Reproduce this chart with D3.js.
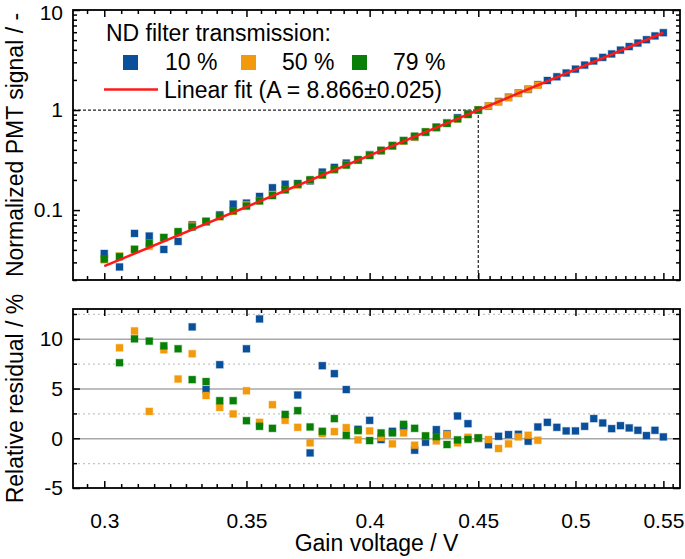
<!DOCTYPE html>
<html>
<head>
<meta charset="utf-8">
<script src="https://cdn.jsdelivr.net/npm/d3@7"></script>
<style>
  html, body { margin: 0; padding: 0; background: #fff; }
  svg { display: block; font-family: "Liberation Sans", Arial, sans-serif; }
</style>
</head>
<body>
<svg id="chart" width="685" height="559"></svg>
<script>
// ---------------- DATA ----------------
const voltage = [0.300,0.305,0.310,0.315,0.320,0.325,0.330,0.335,0.340,0.345,
                 0.350,0.355,0.360,0.365,0.370,0.375,0.380,0.385,0.390,0.395,
                 0.400,0.405,0.410,0.415,0.420,0.425,0.430,0.435,0.440,0.445,
                 0.450,0.455,0.460,0.465,0.470,0.475,0.480,0.485,0.490,0.495,
                 0.500,0.505,0.510,0.515,0.520,0.525,0.530,0.535,0.540,0.545,0.550];

// Normalized PMT signal (top panel)
const signal10 = [0.0368,0.0270,0.0584,0.0550,0.0404,0.0486,0.0711,0.0766,0.0895,0.1147,
                  0.1174,0.1368,0.1673,0.1813,0.1840,0.1957,0.2397,0.2671,0.2950,0.3177,
                  0.3583,0.3924,0.4411,0.4934,0.5359,0.6000,0.6741,0.7437,0.8377,0.9190,
                  1.0000,1.0947,1.2174,1.3421,1.4763,1.6102,1.7924,1.9738,2.1511,2.3451,
                  2.5635,2.8131,3.0937,3.3583,3.6388,3.9729,4.3108,4.6738,5.0486,5.5073,5.9328];
const signal50 = [0.0319,0.0347,0.0407,0.0435,0.0530,0.0592,0.0694,0.0762,0.0859,0.0972,
                  0.1129,0.1241,0.1429,0.1591,0.1782,0.1977,0.2244,0.2525,0.2842,0.3143,
                  0.3545,0.3931,0.4356,0.4904,0.5386,0.6037,0.6666,0.7431,0.8156,0.9066,
                  1.0000,1.1005,1.2025,1.3297,1.4725,1.6200,1.7687];
const signal79 = [0.0324,0.0342,0.0404,0.0465,0.0532,0.0609,0.0677,0.0772,0.0864,0.0984,
                  0.1096,0.1236,0.1396,0.1600,0.1812,0.2009,0.2249,0.2558,0.2820,0.3173,
                  0.3511,0.3950,0.4404,0.4946,0.5478,0.6039,0.6694,0.7357,0.8181,0.9045,1.0004];

// Relative residual in % (bottom panel)
const resid10 = [34,-15,59,30,-17,-13,11.2,4.9,7.4,21,
                 9.0,12.0,21,16,4.35,-1.47,7.3,6.5,4.9,0.9,
                 1.8,-0.13,0.7,1.14,-1.2,-0.4,0.87,0.45,2.24,1.47,
                 0,-0.65,0.2,0.37,0.4,-0.3,1.14,1.6,1.1,0.74,
                 0.74,1.2,1.98,1.54,0.97,1.27,1.04,0.8,0.27,0.8,0.14];
const resid50 = [16,9.1,10.8,2.7,8.9,5.96,8.5,4.3,3.1,2.45,
                 4.78,1.6,3.38,1.8,1.1,-0.46,0.47,0.67,1.07,-0.16,
                 0.74,0.07,-0.56,0.54,-0.7,0.2,-0.26,0.37,-0.46,0.1,
                 0,-0.13,-1.03,-0.56,0.14,0.3,-0.2];
const resid79 = [18,7.6,10.0,9.77,9.3,9.0,5.9,5.7,3.78,3.78,
                 1.77,1.2,1.0,2.4,2.78,1.14,0.7,1.98,0.3,0.77,
                 -0.23,0.54,0.54,1.4,1.0,0.24,0.17,-0.63,-0.16,-0.13,0.04];

// Linear fit (log-log), endpoints
const fitVoltage = [0.30, 0.55];
const fitSignal  = [0.02747, 5.9245];
const refVoltage = 0.45, refSignal = 1;

const seriesNames  = ["10 %", "50 %", "79 %"];
const seriesColors = ["#0a4f99", "#f39a0c", "#088008"];
const legendTitle  = "ND filter transmission:";
const fitLabel     = "Linear fit (A = 8.866\u00B10.025)";

const xMajor = [0.30, 0.35, 0.40, 0.45, 0.50, 0.55];
const xTickLabels = ["0.3", "0.35", "0.4", "0.45", "0.5", "0.55"];
const yTopMajor = [0.1, 1, 10];
const yTopLabels = ["0.1", "1", "10"];
const yResMajor = [-5, 0, 5, 10];
const yResLabels = ["-5", "0", "5", "10"];
const yResMinor = [-2.5, 2.5, 7.5, 12.5];

// ---------------- LAYOUT ----------------
const svg = d3.select("#chart");
const L = 73, R = 680;
const topT = 10, topB = 280;
const botT = 309, botB = 488;

const x = d3.scaleLog().domain([0.29, 0.56]).range([L, R]);
const yTop = d3.scaleLog().domain([0.02, 10]).range([topB, topT]);
const yRes = d3.scaleLinear().domain([-5, 13]).range([botB, botT]);

// minor ticks for x: 8 between majors
const xMinor = [];
for (let i = -1; i < xMajor.length; i++) {
  const base = i < 0 ? xMajor[0] - 0.05 : xMajor[i];
  for (let k = 1; k <= 8; k++) {
    const v = +(base + k * 0.05 / 9).toFixed(6);
    if (v > 0.29 && v < 0.56) xMinor.push(v);
  }
}
const yTopMinor = [];
[0.01, 0.1, 1].forEach(b => { for (let k = 2; k <= 9; k++) { const v = +(b * k).toFixed(4); if (v >= 0.02 && v < 10) yTopMinor.push(v); } });

function styleAxis(g) {
  g.select(".domain").remove();
  g.selectAll(".tick line").attr("stroke", "#000").attr("stroke-width", 1.5);
  g.selectAll(".tick text").attr("fill", "#000").attr("font-size", 21)
    .attr("font-family", "'Liberation Sans', Arial, sans-serif");
}
const MAJ = 7, MIN = 4;

// ---- Bottom panel grid ----
const gridW = R - L;
svg.append("g").attr("transform", `translate(${L},0)`)
  .call(d3.axisLeft(yRes).tickValues(yResMinor).tickSize(-gridW).tickFormat(""))
  .call(g => { g.select(".domain").remove();
    g.selectAll(".tick line").attr("stroke", "#c4c4c4").attr("stroke-width", 1.2).attr("stroke-dasharray", "2,3"); });
svg.append("g").attr("transform", `translate(${L},0)`)
  .call(d3.axisLeft(yRes).tickValues([0, 5, 10]).tickSize(-gridW).tickFormat(""))
  .call(g => { g.select(".domain").remove();
    g.selectAll(".tick line").attr("stroke", "#a8a8a8").attr("stroke-width", 1.5); });

// ---- Top panel reference dotted lines ----
svg.append("line")
  .attr("x1", L).attr("x2", x(refVoltage))
  .attr("y1", yTop(refSignal)).attr("y2", yTop(refSignal))
  .attr("stroke", "#222").attr("stroke-width", 1.2).attr("stroke-dasharray", "3,2");
svg.append("line")
  .attr("x1", x(refVoltage)).attr("x2", x(refVoltage))
  .attr("y1", yTop(refSignal)).attr("y2", topB)
  .attr("stroke", "#222").attr("stroke-width", 1.2).attr("stroke-dasharray", "3,2");

// clip paths
const defs = svg.append("defs");
defs.append("clipPath").attr("id", "clipTop").append("rect")
  .attr("x", L).attr("y", topT).attr("width", R - L).attr("height", topB - topT);
defs.append("clipPath").attr("id", "clipBot").append("rect")
  .attr("x", L).attr("y", botT).attr("width", R - L).attr("height", botB - botT);

// ---- markers ----
const MS = 7;
const topSeries = [signal10, signal50, signal79];
const resSeries = [resid10, resid50, resid79];

const gTop = svg.append("g").attr("clip-path", "url(#clipTop)");
topSeries.forEach((arr, si) => {
  gTop.append("g").selectAll("rect").data(arr).join("rect")
    .attr("x", (d, i) => x(voltage[i]) - MS / 2)
    .attr("y", d => yTop(d) - MS / 2)
    .attr("width", MS).attr("height", MS)
    .attr("fill", seriesColors[si])
    .attr("stroke", seriesColors[si]).attr("stroke-opacity", 0.3).attr("stroke-width", 1.2);
});
// fit line
gTop.append("path")
  .datum(fitVoltage.map((v, i) => [v, fitSignal[i]]))
  .attr("d", d3.line().x(d => x(d[0])).y(d => yTop(d[1])))
  .attr("stroke", "#ff1a1a").attr("stroke-width", 2.5).attr("fill", "none");

const gBot = svg.append("g").attr("clip-path", "url(#clipBot)");
resSeries.forEach((arr, si) => {
  gBot.append("g").selectAll("rect").data(arr).join("rect")
    .attr("x", (d, i) => x(voltage[i]) - MS / 2)
    .attr("y", d => yRes(d) - MS / 2)
    .attr("width", MS).attr("height", MS)
    .attr("fill", seriesColors[si])
    .attr("stroke", seriesColors[si]).attr("stroke-opacity", 0.3).attr("stroke-width", 1.2);
});

// ---- axes: top panel ----
svg.append("g").attr("transform", `translate(0,${topB})`)
  .call(d3.axisBottom(x).tickValues(xMajor).tickSize(-MAJ).tickFormat("")).call(styleAxis);
svg.append("g").attr("transform", `translate(0,${topB})`)
  .call(d3.axisBottom(x).tickValues(xMinor).tickSize(-MIN).tickFormat("")).call(styleAxis);
svg.append("g").attr("transform", `translate(0,${topT})`)
  .call(d3.axisTop(x).tickValues(xMajor).tickSize(-MAJ).tickFormat("")).call(styleAxis);
svg.append("g").attr("transform", `translate(0,${topT})`)
  .call(d3.axisTop(x).tickValues(xMinor).tickSize(-MIN).tickFormat("")).call(styleAxis);
svg.append("g").attr("transform", `translate(${L},0)`)
  .call(d3.axisLeft(yTop).tickValues(yTopMajor).tickSize(-MAJ).tickPadding(10)
    .tickFormat((d, i) => yTopLabels[i])).call(styleAxis)
  .call(g => g.selectAll(".tick text").filter(d => d === 10).attr("dy", "0.45em"));
svg.append("g").attr("transform", `translate(${L},0)`)
  .call(d3.axisLeft(yTop).tickValues(yTopMinor).tickSize(-MIN).tickFormat("")).call(styleAxis);
svg.append("g").attr("transform", `translate(${R},0)`)
  .call(d3.axisRight(yTop).tickValues(yTopMajor).tickSize(-MAJ).tickFormat("")).call(styleAxis);
svg.append("g").attr("transform", `translate(${R},0)`)
  .call(d3.axisRight(yTop).tickValues(yTopMinor).tickSize(-MIN).tickFormat("")).call(styleAxis);

// ---- axes: bottom panel ----
svg.append("g").attr("transform", `translate(0,${botB})`)
  .call(d3.axisBottom(x).tickValues(xMajor).tickSize(-MAJ).tickPadding(25)
    .tickFormat((d, i) => xTickLabels[i])).call(styleAxis);
svg.append("g").attr("transform", `translate(0,${botB})`)
  .call(d3.axisBottom(x).tickValues(xMinor).tickSize(-MIN).tickFormat("")).call(styleAxis);
svg.append("g").attr("transform", `translate(0,${botT})`)
  .call(d3.axisTop(x).tickValues(xMajor).tickSize(-MAJ).tickFormat("")).call(styleAxis);
svg.append("g").attr("transform", `translate(0,${botT})`)
  .call(d3.axisTop(x).tickValues(xMinor).tickSize(-MIN).tickFormat("")).call(styleAxis);
svg.append("g").attr("transform", `translate(${L},0)`)
  .call(d3.axisLeft(yRes).tickValues(yResMajor).tickSize(-MAJ).tickPadding(10)
    .tickFormat((d, i) => yResLabels[i])).call(styleAxis);
svg.append("g").attr("transform", `translate(${L},0)`)
  .call(d3.axisLeft(yRes).tickValues(yResMinor).tickSize(-MIN).tickFormat("")).call(styleAxis);
svg.append("g").attr("transform", `translate(${R},0)`)
  .call(d3.axisRight(yRes).tickValues(yResMajor).tickSize(-MAJ).tickFormat("")).call(styleAxis);
svg.append("g").attr("transform", `translate(${R},0)`)
  .call(d3.axisRight(yRes).tickValues(yResMinor).tickSize(-MIN).tickFormat("")).call(styleAxis);

// frames
[[topT, topB], [botT, botB]].forEach(([t, b]) => {
  svg.append("rect").attr("x", L).attr("y", t).attr("width", R - L).attr("height", b - t)
    .attr("fill", "none").attr("stroke", "#000").attr("stroke-width", 1.8);
});

// ---- axis titles ----
svg.append("text").attr("transform", `translate(23,${(topT + topB) / 2}) rotate(-90)`)
  .attr("text-anchor", "middle").attr("font-size", 23).text("Normalized PMT signal / -");
svg.append("text").attr("transform", `translate(23,${(botT + botB) / 2}) rotate(-90)`)
  .attr("text-anchor", "middle").attr("font-size", 23).text("Relative residual / %");
svg.append("text").attr("x", (L + R) / 2).attr("y", 551)
  .attr("text-anchor", "middle").attr("font-size", 23).text("Gain voltage / V");

// ---- legend ----
const leg = svg.append("g").attr("font-size", 23);
leg.append("text").attr("x", 106).attr("y", 41).text(legendTitle);
const legSq = [123, 241, 352], legTx = [165, 282, 393];
seriesNames.forEach((n, i) => {
  leg.append("rect").attr("x", legSq[i]).attr("y", 55).attr("width", 15).attr("height", 15)
    .attr("fill", seriesColors[i]);
  leg.append("text").attr("x", legTx[i]).attr("y", 70).text(n);
});
leg.append("line").attr("x1", 104).attr("x2", 158).attr("y1", 89.5).attr("y2", 89.5)
  .attr("stroke", "#ff1a1a").attr("stroke-width", 2.5);
leg.append("text").attr("x", 164).attr("y", 98).text(fitLabel);
</script>
</body>
</html>
